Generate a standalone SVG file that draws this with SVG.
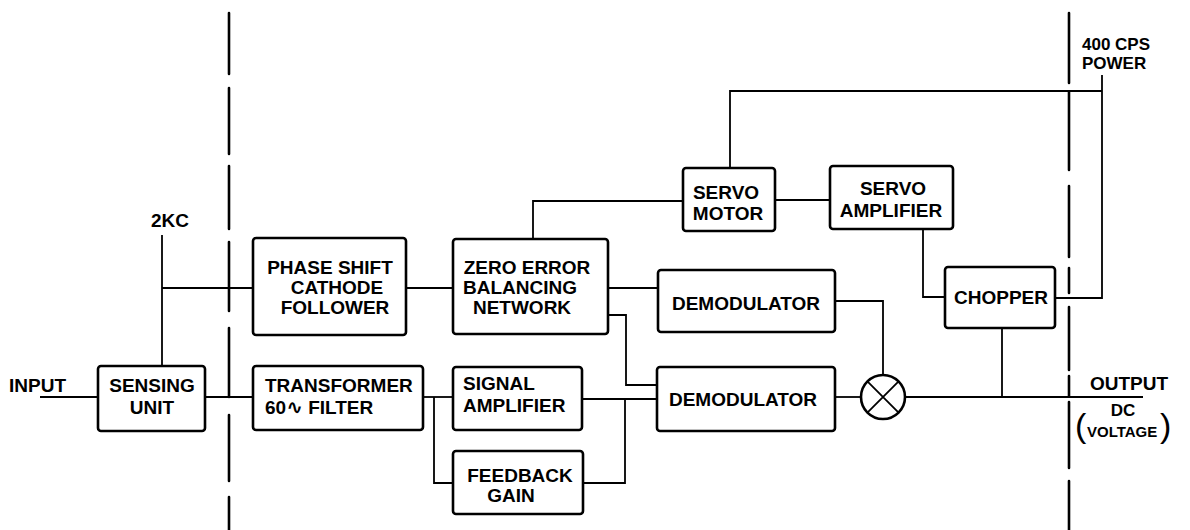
<svg xmlns="http://www.w3.org/2000/svg" width="1190" height="530" viewBox="0 0 1190 530">
<style>
.box{fill:#fff;stroke:#000;stroke-width:2.6}
.ln{fill:none;stroke:#000;stroke-width:1.8}
.dash{fill:none;stroke:#000;stroke-width:2.6;stroke-linecap:round}
text{font-family:"Liberation Sans",Arial,sans-serif;font-weight:bold;font-size:19px;fill:#000}
.c{text-anchor:middle}
.sm{font-size:17px}
.xs{font-size:15px}
.paren{font-weight:normal;font-size:34px}
</style>
<rect width="1190" height="530" fill="#fff"/>
<g id="boundaries">
<path class="dash" d="M229 13V74M229 88V154M229 166V229M229 242V311M229 328V397M229 415V481M229 497V530"/>
<path class="dash" d="M1069 13V83M1069 92V170M1069 186V257M1069 268V293M1069 307V370M1069 376V396M1069 402V468M1069 481V530"/>
</g>
<g id="connectors">
<path class="ln" d="M40 397H98"/>
<path class="ln" d="M205 397H253"/>
<path class="ln" d="M162 235V366"/>
<path class="ln" d="M162 288H253"/>
<path class="ln" d="M406 288H453"/>
<path class="ln" d="M608 288H658"/>
<path class="ln" d="M608 315H626V385H657"/>
<path class="ln" d="M533 239V201H683"/>
<path class="ln" d="M775 200H830"/>
<path class="ln" d="M730 168V91H1102"/>
<path class="ln" d="M1102 75V298H1055"/>
<path class="ln" d="M923 229V297H945"/>
<path class="ln" d="M1002 328V397"/>
<path class="ln" d="M423 397H453"/>
<path class="ln" d="M434 397V483H453"/>
<path class="ln" d="M582 399H657"/>
<path class="ln" d="M583 483H625V399"/>
<path class="ln" d="M835 301H883V375"/>
<path class="ln" d="M835 397H861"/>
<path class="ln" d="M905 397H1143"/>
</g>
<g id="input-label"><text x="9" y="392">INPUT</text></g>
<g id="label-2kc"><text class="c" x="170" y="227">2KC</text></g>
<g id="sensing-unit">
<rect class="box" x="98" y="366" width="107" height="65" rx="3"/>
<text class="c" x="152" y="392">SENSING</text>
<text class="c" x="152" y="414">UNIT</text>
</g>
<g id="transformer-filter">
<rect class="box" x="253" y="366" width="170" height="64" rx="3"/>
<text x="265" y="392">TRANSFORMER</text>
<text x="265" y="414">60<tspan font-family="DejaVu Sans" font-size="20">∿</tspan> FILTER</text>
</g>
<g id="phase-shift">
<rect class="box" x="253" y="238" width="153" height="97" rx="3"/>
<text class="c" x="330" y="274">PHASE SHIFT</text>
<text class="c" x="337" y="294">CATHODE</text>
<text class="c" x="335" y="314">FOLLOWER</text>
</g>
<g id="zero-error">
<rect class="box" x="453" y="239" width="155" height="95" rx="3"/>
<text class="c" x="527" y="274">ZERO ERROR</text>
<text class="c" x="520" y="294">BALANCING</text>
<text class="c" x="522" y="314">NETWORK</text>
</g>
<g id="demodulator-upper">
<rect class="box" x="658" y="270" width="177" height="62" rx="3"/>
<text class="c" x="746" y="310">DEMODULATOR</text>
</g>
<g id="demodulator-lower">
<rect class="box" x="657" y="367" width="178" height="64" rx="3"/>
<text class="c" x="743" y="406">DEMODULATOR</text>
</g>
<g id="signal-amplifier">
<rect class="box" x="453" y="367" width="129" height="63" rx="3"/>
<text x="463" y="390">SIGNAL</text>
<text x="463" y="412">AMPLIFIER</text>
</g>
<g id="feedback-gain">
<rect class="box" x="453" y="451" width="130" height="63" rx="3"/>
<text class="c" x="520" y="482">FEEDBACK</text>
<text class="c" x="511" y="502">GAIN</text>
</g>
<g id="servo-motor">
<rect class="box" x="683" y="168" width="92" height="63" rx="3"/>
<text class="c" x="726" y="199">SERVO</text>
<text class="c" x="728" y="220">MOTOR</text>
</g>
<g id="servo-amplifier">
<rect class="box" x="830" y="166" width="123" height="63" rx="3"/>
<text class="c" x="893" y="195">SERVO</text>
<text class="c" x="891" y="217">AMPLIFIER</text>
</g>
<g id="chopper">
<rect class="box" x="945" y="267" width="110" height="61" rx="3"/>
<text class="c" x="1001" y="304">CHOPPER</text>
</g>
<g id="multiplier">
<circle cx="883" cy="397" r="22" fill="#fff" stroke="#000" stroke-width="2.6"/>
<path class="ln" stroke-width="2" d="M867.4 381.4L898.6 412.6M898.6 381.4L867.4 412.6"/>
</g>
<g id="power-label">
<text class="sm" x="1082" y="50">400 CPS</text>
<text class="sm" x="1082" y="69">POWER</text>
</g>
<g id="output-label">
<text x="1090" y="390">OUTPUT</text>
<text class="c sm" x="1123" y="416">DC</text>
<text class="xs" x="1087" y="437">VOLTAGE</text>
<text class="paren" x="1075" y="437">(</text>
<text class="paren" x="1160" y="437">)</text>
</g>
</svg>
